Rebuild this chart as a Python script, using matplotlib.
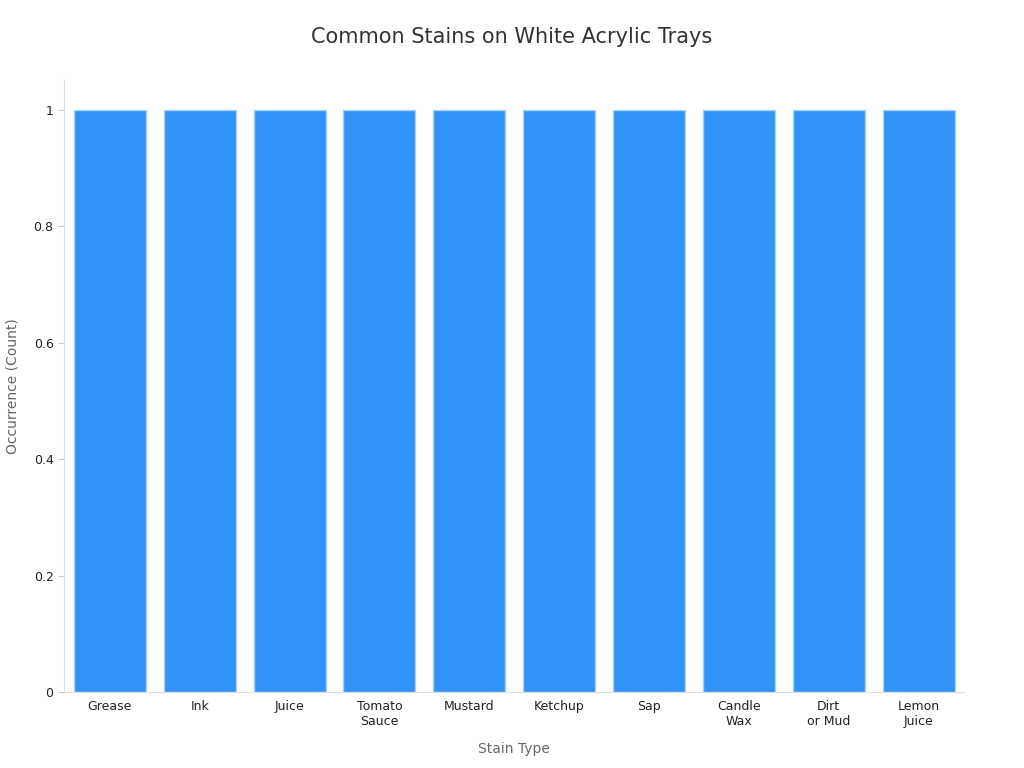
import matplotlib
matplotlib.use("Agg")
import matplotlib.pyplot as plt
import numpy as np

stains = ["Grease", "Ink", "Juice", "Tomato\nSauce", "Mustard", "Ketchup",
          "Sap", "Candle\nWax", "Dirt\nor Mud", "Lemon\nJuice"]
counts = [1, 1, 1, 1, 1, 1, 1, 1, 1, 1]

fig, ax = plt.subplots(figsize=(10.24, 7.68), dpi=100)
fig.subplots_adjust(left=0.0625, right=0.941, top=0.896, bottom=0.099)

x = np.arange(len(stains))
ax.bar(x, counts, 0.8, color="#2f93f7", edgecolor="#a9d0f7", linewidth=1)
ax.set_xticks(x)
ax.set_xticklabels(stains, fontsize=9, color="#222222")
ax.set_xlim(-0.51, 9.5)
ax.set_ylim(0, 1.052)
ax.set_yticks([0, 0.2, 0.4, 0.6, 0.8, 1])
ax.set_yticklabels(["0", "0.2", "0.4", "0.6", "0.8", "1"], fontsize=9, color="#222222")
ax.tick_params(axis="x", length=0, pad=6)
ax.tick_params(axis="y", length=4, color="#cccccc")
for s in ("top", "right"):
    ax.spines[s].set_visible(False)
for s in ("left", "bottom"):
    ax.spines[s].set_color("#dddddd")

ax.set_xlabel("Stain Type", fontsize=10, color="#666666", labelpad=10)
ax.set_ylabel("Occurrence (Count)", fontsize=10, color="#666666", labelpad=10)
fig.suptitle("Common Stains on White Acrylic Trays", fontsize=15, color="#333333", y=0.965)

fig.savefig("out.png", dpi=100)
